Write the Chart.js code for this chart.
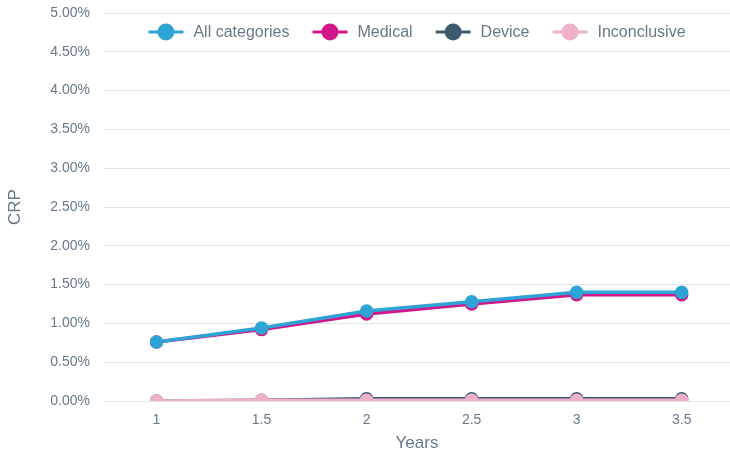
<!DOCTYPE html>
<html>
<head>
<meta charset="utf-8">
<script src="https://cdn.jsdelivr.net/npm/chart.js@4"></script>
<style>
  html, body { margin: 0; padding: 0; background: #fff; overflow: hidden; }
  #wrap { width: 730px; height: 456px; position: relative; }
  canvas { display: block; }
</style>
</head>
<body>
<div id="wrap"><canvas id="chart"></canvas></div>
<script>
const years = [1, 1.5, 2, 2.5, 3, 3.5];
const yTicks = [0, 0.5, 1, 1.5, 2, 2.5, 3, 3.5, 4, 4.5, 5];

const allCategories = [0.76, 0.94, 1.16, 1.28, 1.40, 1.40];
const medical = [0.76, 0.92, 1.12, 1.25, 1.37, 1.37];
const device = [0.00, 0.01, 0.03, 0.03, 0.03, 0.03];
const inconclusive = [0.00, 0.01, 0.01, 0.01, 0.01, 0.01];

const textColor = '#66798b';
const gridColor = '#dfe6ec';
const fontFamily = "'Liberation Sans', Arial, sans-serif";

const toPoints = vals => vals.map((v, i) => ({ x: years[i], y: v }));

const makeSeries = (label, values, color, order) => ({
  label,
  data: toPoints(values),
  borderColor: color,
  backgroundColor: color,
  pointBackgroundColor: color,
  pointBorderColor: color,
  borderWidth: 3.5,
  pointRadius: 5,
  pointHoverRadius: 5,
  tension: 0,
  order
});

// legend drawn over the plot, line + dot markers
const overlayLegend = {
  id: 'overlayLegend',
  afterDatasetsDraw(chart) {
    const ctx = chart.ctx;
    const ds = chart.data.datasets;
    ctx.save();
    ctx.font = '16px ' + fontFamily;
    ctx.textBaseline = 'middle';
    const lineW = 35, gapText = 10, gapItem = 23;
    const widths = ds.map(d => lineW + gapText + ctx.measureText(d.label).width);
    const total = widths.reduce((a, b) => a + b, 0) + gapItem * (ds.length - 1);
    const area = chart.chartArea;
    let x = (area.left + area.right) / 2 - total / 2;
    const y = 32;
    ds.forEach((d, i) => {
      ctx.strokeStyle = d.borderColor;
      ctx.lineWidth = 3;
      ctx.beginPath();
      ctx.moveTo(x, y);
      ctx.lineTo(x + lineW, y);
      ctx.stroke();
      ctx.fillStyle = d.borderColor;
      ctx.beginPath();
      ctx.arc(x + lineW / 2, y, 8.5, 0, Math.PI * 2);
      ctx.fill();
      ctx.fillStyle = textColor;
      ctx.fillText(d.label, x + lineW + gapText, y + 1);
      x += widths[i] + gapItem;
    });
    ctx.restore();
  }
};

new Chart(document.getElementById('chart'), {
  type: 'line',
  data: {
    datasets: [
      makeSeries('All categories', allCategories, '#2ea3d5', 0),
      makeSeries('Medical', medical, '#d2168b', 1),
      makeSeries('Device', device, '#3d5a6f', 3),
      makeSeries('Inconclusive', inconclusive, '#efb0cc', 2)
    ]
  },
  options: {
    responsive: true,
    maintainAspectRatio: false,
    animation: false,
    layout: { autoPadding: false, padding: { top: 13, right: 0, left: 5, bottom: 2 } },
    plugins: {
      legend: { display: false },
      tooltip: { enabled: false }
    },
    scales: {
      x: {
        type: 'linear',
        min: 0.75,
        max: 3.73,
        afterBuildTicks: axis => { axis.ticks = years.map(v => ({ value: v })); },
        afterFit: axis => {
          axis.height = 53;
          axis.paddingLeft = 0;
          axis.paddingRight = 0;
        },
        grid: { display: false },
        border: { display: false },
        ticks: {
          color: textColor,
          font: { family: fontFamily, size: 14 },
          padding: 3,
          callback: v => String(v)
        },
        title: {
          display: true,
          text: 'Years',
          color: textColor,
          font: { family: fontFamily, size: 17 },
          padding: { top: 2, bottom: 0 }
        }
      },
      y: {
        min: 0,
        max: 5,
        afterBuildTicks: axis => { axis.ticks = yTicks.map(v => ({ value: v })); },
        afterFit: axis => {
          axis.width = 99;
          axis.paddingTop = 0;
          axis.paddingBottom = 0;
        },
        grid: { color: gridColor, lineWidth: 1, drawTicks: false },
        border: { display: false },
        ticks: {
          color: textColor,
          font: { family: fontFamily, size: 14 },
          padding: 14,
          callback: v => v.toFixed(2) + '%'
        },
        title: {
          display: true,
          text: 'CRP',
          color: textColor,
          font: { family: fontFamily, size: 17 },
          padding: { top: 0, bottom: 18 }
        }
      }
    }
  },
  plugins: [overlayLegend]
});
</script>
</body>
</html>
